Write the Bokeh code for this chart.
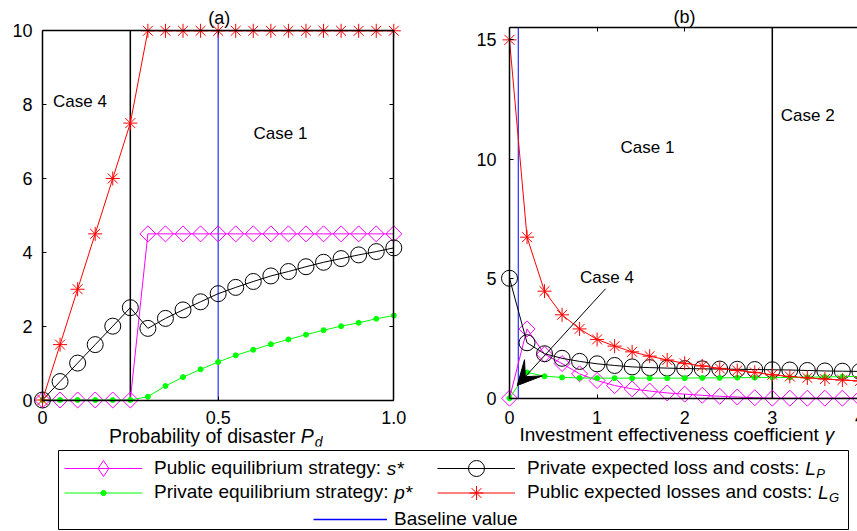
from bokeh.plotting import figure
from bokeh.models import (Range1d, LinearAxis, FixedTicker, Label, Arrow, VeeHead,
                          Legend, LegendItem)
from bokeh.layouts import column, row
from bokeh.embed import file_html
from bokeh.resources import INLINE
from math import pi

# ---------------- data : panel (a) ----------------
pd_vals = [0.00, 0.05, 0.10, 0.15, 0.20, 0.25, 0.30, 0.35, 0.40, 0.45, 0.50,
           0.55, 0.60, 0.65, 0.70, 0.75, 0.80, 0.85, 0.90, 0.95, 1.00]
s_a = [0, 0, 0, 0, 0, 0, 4.5, 4.5, 4.5, 4.5, 4.5,
       4.5, 4.5, 4.5, 4.5, 4.5, 4.5, 4.5, 4.5, 4.5, 4.5]
LP_a = [0.0, 0.5, 1.0, 1.5, 2.0, 2.5, 1.94, 2.21, 2.44, 2.66, 2.88,
        3.05, 3.21, 3.36, 3.48, 3.61, 3.73, 3.83, 3.93, 4.02, 4.12]
p_a = [0, 0, 0, 0, 0, 0, 0.09, 0.38, 0.62, 0.83, 1.03,
       1.21, 1.36, 1.51, 1.64, 1.77, 1.89, 2.00, 2.09, 2.20, 2.29]
LG_a = [0.0, 1.5, 3.0, 4.5, 6.0, 7.5, 10, 10, 10, 10, 10,
        10, 10, 10, 10, 10, 10, 10, 10, 10, 10]
CASE_LINE_A = [0.25]
BASE_LINE_A = [0.5]
Y_TOP_A = 10

# ---------------- data : panel (b) ----------------
gamma = [0.0, 0.2, 0.4, 0.6, 0.8, 1.0, 1.2, 1.4, 1.6, 1.8, 2.0,
         2.2, 2.4, 2.6, 2.8, 3.0, 3.2, 3.4, 3.6, 3.8, 4.0]
s_b = [0.0, 2.9, 1.84, 1.45, 1.02, 0.74, 0.53, 0.39, 0.30, 0.22, 0.17,
       0.12, 0.08, 0.05, 0.02, 0.0, 0.0, 0.0, 0.0, 0.0, 0.0]
LP_b = [5.02, 2.32, 1.86, 1.67, 1.54, 1.44, 1.37, 1.31, 1.28, 1.26, 1.24,
        1.23, 1.22, 1.21, 1.20, 1.19, 1.18, 1.16, 1.14, 1.13, 1.12]
p_b = [0.0, 1.08, 0.92, 0.87, 0.85, 0.84, 0.84, 0.84, 0.84, 0.84, 0.84,
       0.85, 0.85, 0.86, 0.86, 0.87, 0.87, 0.88, 0.89, 0.90, 0.91]
LG_b = [15.0, 6.74, 4.48, 3.49, 2.90, 2.46, 2.18, 1.94, 1.76, 1.60, 1.46,
        1.35, 1.25, 1.16, 1.08, 0.98, 0.91, 0.85, 0.80, 0.76, 0.72]
CASE_LINE_B = [3.0]
BASE_LINE_B = [0.1]
Y_TOP_B = 15.5

# tick values / labels
xticks_a = [0, 0.5, 1.0]
xticklabels_a = ["0", "0.5", "1.0"]
yticks_a = [0, 2, 4, 6, 8, 10]
xticks_b = [0, 1, 2, 3, 4]
yticks_b = [0, 5, 10, 15]

FONT = "Liberation Sans"
MAGENTA, GREEN, RED, BLUE, BLACK = "#ff00ff", "#00ff00", "#ff0000", "#0000ff", "#000000"

# Arial / Liberation Sans advance widths (per 1000 em) for text layout
AW = {' ': 278, '(': 333, ')': 333, '*': 389, ':': 278, '.': 278,
      'a': 556, 'b': 556, 'c': 500, 'd': 556, 'e': 556, 'f': 278, 'g': 556, 'h': 556,
      'i': 222, 'j': 222, 'k': 500, 'l': 222, 'm': 833, 'n': 556, 'o': 556, 'p': 556,
      'q': 556, 'r': 333, 's': 500, 't': 278, 'u': 556, 'v': 500, 'w': 722, 'x': 500,
      'y': 500, 'z': 500, 'A': 667, 'B': 667, 'C': 722, 'G': 778, 'I': 278, 'L': 556, 'P': 667}


def tw(s, px):
    return sum(AW.get(c, 556) for c in s) * px / 1000.0


H_TOP = 448
W_A, W_B = 450, 407

# ---------------- panel (a) geometry (window pixels) ----------------
A_X0, A_SX = 42.0, 351.3      # x = 0 position, px per unit
A_Y0, A_SY = 399.5, 36.92     # y = 0 position, px per unit


def xa(px):
    return (px - A_X0) / A_SX


def ya(py):
    return (A_Y0 - py) / A_SY


A_FL, A_FR, A_FT, A_FB = 4, 446, 3, 446

# ---------------- panel (b) geometry (window pixels) ----------------
B_X0, B_SX = 509.0, 87.6
B_Y0, B_SY = 397.7, 23.89


def xb(px):
    return (px - B_X0) / B_SX


def yb(py):
    return (B_Y0 - py) / B_SY


B_FL, B_FR, B_FT, B_FB = 454, 857, 3, 446


def setup_axis(ax, ticks, fixed=None, bounds=None, line=True):
    ax.ticker = FixedTicker(ticks=ticks)
    if fixed is not None:
        ax.fixed_location = fixed
    if bounds is not None:
        ax.bounds = bounds
    ax.major_tick_in = 4
    ax.major_tick_out = 0
    ax.minor_tick_line_color = None
    ax.axis_line_width = 1.5
    ax.axis_line_color = BLACK if line else None
    ax.major_tick_line_color = BLACK
    ax.major_tick_line_width = 1
    ax.axis_label = None
    ax.major_label_text_font_size = "0px"
    ax.major_label_standoff = 0
    ax.major_label_text_color = None


def add_text(p, x, y, text, size, align="left", style="normal"):
    p.add_layout(Label(x=x, y=y, text=text, text_font=FONT, text_font_size=f"{size}px",
                       text_font_style=style, text_align=align, text_baseline="middle",
                       text_color=BLACK))


def draw_series(p, x, s, lp, ps, lg):
    p.line(x, s, line_color=MAGENTA, line_width=1)
    p.scatter(x, s, marker="square", angle=pi / 4, size=11.3, line_color=MAGENTA,
              fill_color=None, line_width=1)
    p.line(x, lp, line_color=BLACK, line_width=1)
    p.scatter(x, lp, marker="circle", size=16, line_color=BLACK, fill_color=None, line_width=1)
    p.line(x, ps, line_color=GREEN, line_width=1)
    p.scatter(x, ps, marker="circle", size=5, line_color=GREEN, fill_color=GREEN)
    p.line(x, lg, line_color=RED, line_width=1)
    p.scatter(x, lg, marker="asterisk", size=14, line_color=RED, line_width=1)


def base_fig(w, fl, fr, ft, fb, xr, yr):
    p = figure(width=w, height=H_TOP, x_range=xr, y_range=yr,
               min_border_left=fl, min_border_right=fr, min_border_top=ft, min_border_bottom=fb,
               output_backend="svg", toolbar_location=None, outline_line_color=None,
               background_fill_color="white", border_fill_color="white")
    p.grid.visible = False
    return p


# ================= panel (a) =================
pa = base_fig(W_A, A_FL, W_A - A_FR, A_FT, H_TOP - A_FB,
              Range1d(xa(A_FL), xa(A_FR)), Range1d(ya(A_FB), ya(A_FT)))
setup_axis(pa.below[0], xticks_a, fixed=0, bounds=(0, 1))
setup_axis(pa.left[0], yticks_a, fixed=0, bounds=(0, Y_TOP_A))
top_a = LinearAxis()
pa.add_layout(top_a, "above")
setup_axis(top_a, xticks_a, fixed=Y_TOP_A, bounds=(0, 1))
right_a = LinearAxis()
pa.add_layout(right_a, "right")
setup_axis(right_a, yticks_a, fixed=1, bounds=(0, Y_TOP_A))

pa.segment(x0=CASE_LINE_A, y0=[0], x1=CASE_LINE_A, y1=[Y_TOP_A], line_color=BLACK, line_width=1.5)
pa.segment(x0=BASE_LINE_A, y0=[0], x1=BASE_LINE_A, y1=[Y_TOP_A], line_color=BLUE, line_width=1)
draw_series(pa, pd_vals, s_a, LP_a, p_a, LG_a)

for t in yticks_a:
    add_text(pa, xa(32), t, f"{t:g}", 18, "right")
for t, s in zip(xticks_a, xticklabels_a):
    add_text(pa, t, ya(416.7), s, 18, "center")
add_text(pa, xa(218.7), ya(17), "(a)", 18, "center")
add_text(pa, xa(52.5), ya(101.2), "Case 4", 17)
add_text(pa, xa(253), ya(133.3), "Case 1", 17)
lab1 = "Probability of disaster "
lx = 108.5
px_P = lx + tw(lab1, 19.5)
add_text(pa, xa(lx), ya(435), lab1, 19.5)
add_text(pa, xa(px_P), ya(435), "P", 19.5, style="italic")
add_text(pa, xa(px_P + tw("P", 19.5) + 1), ya(441), "d", 14, style="italic")

# ================= panel (b) =================
pb = base_fig(W_B, B_FL - W_A, 0, B_FT, H_TOP - B_FB,
              Range1d(xb(B_FL), xb(B_FR)), Range1d(yb(B_FB), yb(B_FT)))
xb_end = xb(B_FR)
setup_axis(pb.below[0], xticks_b, fixed=0, bounds=(0, xb_end))
setup_axis(pb.left[0], yticks_b, fixed=0, bounds=(0, Y_TOP_B))
top_b = LinearAxis()
pb.add_layout(top_b, "above")
setup_axis(top_b, xticks_b, fixed=Y_TOP_B, bounds=(0, xb_end))

pb.segment(x0=CASE_LINE_B, y0=[0], x1=CASE_LINE_B, y1=[Y_TOP_B], line_color=BLACK, line_width=1.5)
pb.segment(x0=BASE_LINE_B, y0=[0], x1=BASE_LINE_B, y1=[Y_TOP_B], line_color=BLUE, line_width=1)
draw_series(pb, gamma, s_b, LP_b, p_b, LG_b)

for t in yticks_b:
    add_text(pb, xb(496), t, f"{t:g}", 18, "right")
for t in xticks_b:
    add_text(pb, t, yb(416.7), f"{t:g}", 18, "center")
add_text(pb, xb(684), yb(16.5), "(b)", 18, "center")
add_text(pb, xb(620), yb(146.7), "Case 1", 17)
add_text(pb, xb(780.3), yb(115), "Case 2", 17)
add_text(pb, xb(579.5), yb(276.7), "Case 4", 17)
lab2 = "Investment effectiveness coefficient "
add_text(pb, xb(519), yb(434.3), lab2, 19)
add_text(pb, xb(519 + tw(lab2, 19)), yb(434.3), "\u03b3", 19, style="italic")
pb.add_layout(Arrow(end=VeeHead(size=24, fill_color=BLACK, line_color=BLACK),
                    x_start=1.096, y_start=4.58, x_end=0.088, y_end=0.53,
                    line_color=BLACK, line_width=1))

# ================= legend strip =================
LG_L, LG_R, LG_T, LG_B = 58, 848, 450, 529
pleg = figure(width=857, height=531 - H_TOP,
              x_range=Range1d(LG_L, LG_R), y_range=Range1d(LG_B, LG_T),
              min_border_left=LG_L, min_border_right=857 - LG_R,
              min_border_top=LG_T - H_TOP, min_border_bottom=531 - LG_B,
              x_axis_location=None, y_axis_location=None,
              outline_line_color=BLACK, outline_line_width=1,
              output_backend="svg", toolbar_location=None)
pleg.grid.visible = False

# proxy renderers (same series; they lie outside this strip's view)
r_s = [pleg.line(pd_vals, s_a, line_color=MAGENTA, line_width=1),
       pleg.scatter(pd_vals, s_a, marker="diamond", size=16, line_color=MAGENTA, fill_color=None)]
r_lp = [pleg.line(pd_vals, LP_a, line_color=BLACK, line_width=1),
        pleg.scatter(pd_vals, LP_a, marker="circle", size=16, line_color=BLACK, fill_color=None)]
r_p = [pleg.line(pd_vals, p_a, line_color=GREEN, line_width=1),
       pleg.scatter(pd_vals, p_a, marker="circle", size=5, line_color=GREEN, fill_color=GREEN)]
r_lg = [pleg.line(pd_vals, LG_a, line_color=RED, line_width=1),
        pleg.scatter(pd_vals, LG_a, marker="asterisk", size=14, line_color=RED)]
r_base = [pleg.line(BASE_LINE_A + BASE_LINE_A, [0, Y_TOP_A], line_color=BLUE, line_width=1.6)]

ROW1, ROW2, ROW3 = 468, 492, 519
LAB1 = "Public equilibrium strategy: "
LAB2 = "Private equilibrium strategy: "
LAB3 = "Private expected loss and costs: "
LAB4 = "Public expected losses and costs: "


def make_legend(label, rends, glyph_left, row_c, glyph_w, glyph_h, standoff):
    h = max(glyph_h, 24)
    bottom = row_c + h / 2.0
    lg = Legend(items=[LegendItem(label=label, renderers=rends)],
                location=(glyph_left - LG_L, LG_B - bottom),
                orientation="vertical", glyph_width=glyph_w, glyph_height=glyph_h,
                label_height=24, spacing=0, padding=0, margin=0, label_standoff=standoff,
                border_line_color=None, background_fill_alpha=0,
                label_text_font=FONT, label_text_font_size="19px", label_text_color=BLACK)
    pleg.add_layout(lg)


C1_G, C2_G, C3_G = 64, 437, 313
make_legend(LAB1, r_s, C1_G, ROW1, 78, 40, 12)
make_legend(LAB2, r_p, C1_G, ROW2, 78, 13, 12)
make_legend(LAB3, r_lp, C2_G, ROW1, 78, 40, 12)
make_legend(LAB4, r_lg, C2_G, ROW2, 78, 35, 12)
make_legend("Baseline value", r_base, C3_G, ROW3, 74, 24, 7)

t1 = C1_G + 78 + 12
t2 = C2_G + 78 + 12
add_text(pleg, t1 + tw(LAB1, 19), ROW1, "s*", 19, style="italic")
add_text(pleg, t1 + tw(LAB2, 19), ROW2, "p*", 19, style="italic")
xl = t2 + tw(LAB3, 19)
add_text(pleg, xl, ROW1, "L", 19, style="italic")
add_text(pleg, xl + tw("L", 19) + 0.5, ROW1 + 5, "P", 13, style="italic")
xl = t2 + tw(LAB4, 19)
add_text(pleg, xl, ROW2, "L", 19, style="italic")
add_text(pleg, xl + tw("L", 19) + 0.5, ROW2 + 5, "G", 13, style="italic")

layout = column(row(pa, pb), pleg)
open("out.html", "w").write(file_html(layout, INLINE))
